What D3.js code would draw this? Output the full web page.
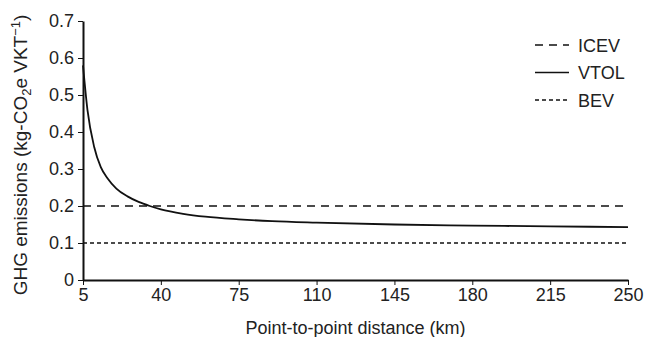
<!DOCTYPE html>
<html>
<head>
<meta charset="utf-8">
<script src="https://cdn.jsdelivr.net/npm/d3@7"></script>
<style>
  body { margin: 0; background: #fff; }
  svg { font-family: "Liberation Sans", Arial, sans-serif; }
  .axis path, .axis line { stroke: #111; }
  .axis text { font-size: 18px; fill: #222; }
</style>
</head>
<body>
<script>
// data
var distance = [5, 7, 10, 13, 16, 20, 25, 30, 35, 40, 50, 60, 75, 90, 110, 145, 180, 215, 250];
var vtol = [0.58, 0.46, 0.36, 0.305, 0.275, 0.247, 0.226, 0.211, 0.2, 0.191, 0.179, 0.171, 0.164, 0.159, 0.155, 0.15, 0.147, 0.145, 0.143];
var icev = 0.2;
var bev = 0.1;
var xTicks = [5, 40, 75, 110, 145, 180, 215, 250];
var yTicks = [0, 0.1, 0.2, 0.3, 0.4, 0.5, 0.6, 0.7];

var W = 646, H = 337;
var mLeft = 83, mRight = 628, mTop = 21, mBottom = 280;

var svg = d3.select("body").append("svg")
  .attr("width", W)
  .attr("height", H);

var x = d3.scaleLinear().domain([5, 250]).range([mLeft, mRight]);
var y = d3.scaleLinear().domain([0, 0.7]).range([mBottom, mTop]);

// axes
svg.append("g")
  .attr("class", "x axis")
  .attr("transform", "translate(0," + mBottom + ")")
  .call(d3.axisBottom(x).tickValues(xTicks).tickSize(5).tickSizeOuter(0).tickPadding(3))
  .call(function(g) { g.select(".domain").attr("stroke-width", 2); });

svg.append("g")
  .attr("class", "y axis")
  .attr("transform", "translate(" + mLeft + ",0)")
  .call(d3.axisLeft(y).tickValues(yTicks).tickSize(5).tickSizeOuter(0).tickPadding(4)
    .tickFormat(function(d) { return d === 0 ? "0" : d3.format(".1f")(d); }))
  .call(function(g) { g.select(".domain").attr("stroke-width", 2); });

// reference lines
svg.append("line")
  .attr("x1", x(5)).attr("x2", x(250))
  .attr("y1", y(icev)).attr("y2", y(icev))
  .attr("stroke", "#111").attr("stroke-width", 1.6)
  .attr("stroke-dasharray", "8,6");

svg.append("line")
  .attr("x1", x(5)).attr("x2", x(250))
  .attr("y1", y(bev)).attr("y2", y(bev))
  .attr("stroke", "#111").attr("stroke-width", 1.6)
  .attr("stroke-dasharray", "4,3");

// VTOL curve
var line = d3.line()
  .x(function(d, i) { return x(distance[i]); })
  .y(function(d) { return y(d); })
  .curve(d3.curveMonotoneX);

svg.append("path")
  .datum(vtol)
  .attr("fill", "none")
  .attr("stroke", "#111")
  .attr("stroke-width", 1.8)
  .attr("d", line);

// legend
var legend = [
  { name: "ICEV", dash: "8,6" },
  { name: "VTOL", dash: null },
  { name: "BEV", dash: "4,3" }
];
var lg = svg.append("g").attr("transform", "translate(535,45)");
legend.forEach(function(d, i) {
  lg.append("line")
    .attr("x1", 0).attr("x2", 34)
    .attr("y1", i * 27.5).attr("y2", i * 27.5)
    .attr("stroke", "#111").attr("stroke-width", 1.6)
    .attr("stroke-dasharray", d.dash);
  lg.append("text")
    .attr("x", 43).attr("y", i * 27.5 + 6.5)
    .attr("font-size", 18).attr("fill", "#222")
    .text(d.name);
});

// axis titles
svg.append("text")
  .attr("x", (mLeft + mRight) / 2).attr("y", 334)
  .attr("text-anchor", "middle")
  .attr("font-size", 18).attr("fill", "#222")
  .text("Point-to-point distance (km)");

var yt = svg.append("text")
  .attr("transform", "translate(27,155) rotate(-90)")
  .attr("text-anchor", "middle")
  .attr("font-size", 19).attr("fill", "#222");
yt.append("tspan").text("GHG emissions (kg-CO");
yt.append("tspan").attr("font-size", 13).attr("dy", 4).text("2");
yt.append("tspan").attr("dy", -4).text("e VKT");
yt.append("tspan").attr("font-size", 13).attr("dy", -7).text("\u22121");
yt.append("tspan").attr("dy", 7).text(")");
</script>
</body>
</html>
